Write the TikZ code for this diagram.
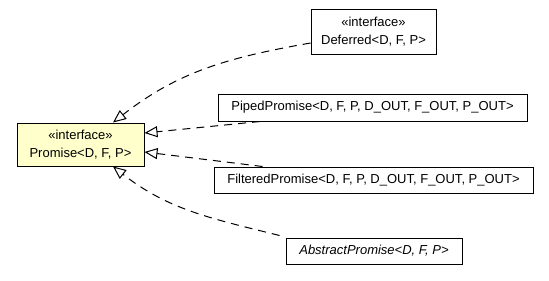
\documentclass[tikz,border=0pt]{standalone}
\usepackage{fontspec}
\setmainfont{Liberation Sans}
\usetikzlibrary{arrows.meta}
\begin{document}
\begin{tikzpicture}[x=1pt,y=-1pt,
  umlbox/.style={draw=black, line width=1pt, fill=white, inner sep=0pt,
    align=center, font=\fontsize{13}{18.5}\selectfont},
  iface/.style={umlbox},
  realizes/.style={draw=black, line width=1pt, dash pattern=on 8pt off 6pt,
    -{Triangle[open, length=13pt, width=11pt, fill=white]}}
]
\useasboundingbox (0,0) rectangle (549,281);

% classes and interfaces
\node[iface, fill={rgb,255:red,255;green,255;blue,204},
  minimum width=127pt, minimum height=43pt] (prom) at (80.5,144.5)
  {«interface»\\Promise<D, F, P>};
\node[iface, minimum width=125pt, minimum height=45pt] (def) at (373.5,31.5)
  {«interface»\\Deferred<D, F, P>};
\node[umlbox, minimum width=309pt, minimum height=27pt] (piped) at (372.5,107.5)
  {PipedPromise<D, F, P, D\_OUT, F\_OUT, P\_OUT>};
\node[umlbox, minimum width=319pt, minimum height=26pt] (filt) at (373.5,180)
  {FilteredPromise<D, F, P, D\_OUT, F\_OUT, P\_OUT>};
\node[umlbox, minimum width=176pt, minimum height=26pt] (abs) at (374,251)
  {\itshape AbstractPromise<D, F, P>};

% realization arrows
\draw[realizes] ([yshift=-11.5pt]def.west) to[out=190, in=38] ([xshift=32.5pt]prom.north);
\draw[realizes] ([xshift=-112.5pt]piped.south) -- ([yshift=11.5pt]prom.east);
\draw[realizes] ([xshift=-111pt]filt.north) -- ([yshift=-7.5pt]prom.east);
\draw[realizes] ([xshift=-6pt,yshift=2pt]abs.north west) to[out=166, in=-38] ([xshift=32.5pt]prom.south);
\end{tikzpicture}
\end{document}
